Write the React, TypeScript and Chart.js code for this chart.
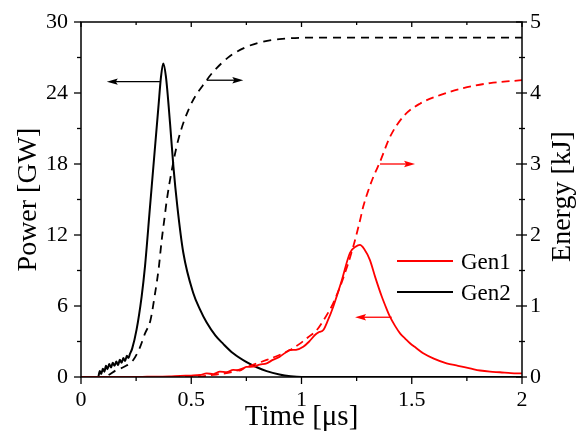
import React, { useEffect, useRef } from 'react';
import { Chart, registerables } from 'chart.js';

Chart.register(...registerables);

// ---- Data ----
const seriesNames = ['Gen1', 'Gen2'];

// Gen2 power [GW] vs time [µs]
const gen2Time = [0, 0.078, 0.085, 0.092, 0.099, 0.106, 0.113, 0.12, 0.128, 0.136, 0.144, 0.152, 0.16, 0.168, 0.176, 0.184, 0.192, 0.2, 0.208, 0.215, 0.222, 0.232, 0.252, 0.275, 0.29, 0.313, 0.336, 0.351, 0.363, 0.373, 0.385, 0.404, 0.419, 0.437, 0.464, 0.509, 0.54, 0.57, 0.61, 0.645, 0.69, 0.751, 0.8, 0.842, 0.9, 0.95, 1.0, 2.0];
const gen2Power = [0, 0, 0.5, 0.25, 0.7, 0.45, 0.95, 0.65, 1.1, 0.8, 1.2, 0.95, 1.3, 1.0, 1.45, 1.2, 1.6, 1.35, 1.8, 1.6, 1.95, 2.4, 4.0, 6.8, 9.3, 14.4, 19.5, 22.8, 25.4, 26.5, 25.4, 21.4, 17.8, 14.4, 10.5, 7.1, 5.7, 4.6, 3.5, 2.8, 2.0, 1.25, 0.8, 0.5, 0.22, 0.07, 0, 0];

// Gen2 energy [kJ]
const gen2ETime = [0, 0.1, 0.162, 0.2, 0.237, 0.265, 0.29, 0.315, 0.336, 0.352, 0.366, 0.378, 0.389, 0.411, 0.441, 0.494, 0.57, 0.6, 0.676, 0.751, 0.82, 0.9, 1.05, 1.3, 2.0];
const gen2Energy = [0, 0, 0.1, 0.15, 0.24, 0.4, 0.61, 0.8, 1.18, 1.52, 1.93, 2.22, 2.49, 2.9, 3.34, 3.81, 4.18, 4.3, 4.52, 4.65, 4.72, 4.76, 4.78, 4.78, 4.78];

// Gen1 power [GW]
const gen1Time = [0, 0.2, 0.3, 0.4, 0.45, 0.5, 0.54, 0.57, 0.6, 0.63, 0.66, 0.69, 0.72, 0.75, 0.78, 0.81, 0.842, 0.87, 0.9, 0.93, 0.948, 0.975, 1.008, 1.035, 1.061, 1.08, 1.099, 1.12, 1.144, 1.18, 1.22, 1.245, 1.265, 1.285, 1.31, 1.335, 1.364, 1.385, 1.401, 1.425, 1.447, 1.47, 1.492, 1.52, 1.552, 1.6, 1.658, 1.71, 1.764, 1.81, 1.855, 1.9, 1.95, 2.0];
const gen1Power = [0, 0, 0.02, 0.05, 0.1, 0.12, 0.17, 0.3, 0.25, 0.45, 0.4, 0.6, 0.55, 0.85, 0.87, 1.05, 1.15, 1.45, 1.7, 2.1, 2.28, 2.3, 2.56, 3.0, 3.55, 3.8, 3.97, 4.8, 5.94, 8.0, 10.5, 11.0, 11.16, 10.8, 9.9, 8.4, 6.8, 5.8, 5.1, 4.3, 3.69, 3.25, 2.85, 2.45, 2.0, 1.55, 1.15, 0.95, 0.73, 0.55, 0.45, 0.4, 0.33, 0.3];

// Gen1 energy [kJ]
const gen1ETime = [0, 0.5, 0.6, 0.69, 0.76, 0.842, 0.9, 0.948, 0.993, 1.03, 1.069, 1.1, 1.144, 1.19, 1.235, 1.265, 1.28, 1.3, 1.326, 1.356, 1.401, 1.462, 1.537, 1.628, 1.734, 1.855, 1.96, 2.0];
const gen1Energy = [0, 0, 0.03, 0.075, 0.15, 0.24, 0.31, 0.38, 0.47, 0.56, 0.66, 0.8, 1.04, 1.4, 1.84, 2.2, 2.4, 2.6, 2.82, 3.03, 3.38, 3.67, 3.85, 3.97, 4.07, 4.14, 4.17, 4.18];

// Ticks
const timeTicks = [0, 0.5, 1, 1.5, 2];
const timeMinorTicks = [0.25, 0.75, 1.25, 1.75];
const powerTicks = [0, 6, 12, 18, 24, 30];
const powerMinorTicks = [3, 9, 15, 21, 27];
const energyTicks = [0, 1, 2, 3, 4, 5];
const energyMinorTicks = [0.5, 1.5, 2.5, 3.5, 4.5];

// Annotation arrows (data coordinates): axis id, from time, to time, value
const arrowAxis = ['y', 'y1', 'y1', 'y'];
const arrowFrom = [0.358, 0.57, 1.356, 1.409];
const arrowTo = [0.117, 0.736, 1.515, 1.243];
const arrowAt = [24.96, 4.18, 3.0, 5.05];
const arrowColors = ['#000000', '#000000', '#ff0000', '#ff0000'];

const RED = '#ff0000';
const BLACK = '#000000';
const FONT = "'Liberation Serif', 'Times New Roman', Times, serif";

const pts = (xs: number[], ys: number[]) => xs.map((x, i) => ({ x, y: ys[i] }));

const decorPlugin = {
  id: 'decor',
  afterDraw(chart: any) {
    const { ctx, chartArea, scales } = chart;
    const { left, right, top, bottom } = chartArea;
    ctx.save();
    // frame
    ctx.strokeStyle = BLACK;
    ctx.lineWidth = 1.5;
    ctx.strokeRect(left, top, right - left, bottom - top);
    ctx.lineWidth = 1.3;
    const line = (x0: number, y0: number, x1: number, y1: number) => {
      ctx.beginPath();
      ctx.moveTo(x0, y0);
      ctx.lineTo(x1, y1);
      ctx.stroke();
    };
    for (const v of timeTicks) {
      const p = scales.x.getPixelForValue(v);
      line(p, bottom, p, bottom + 7);
      line(p, top, p, top + 5);
    }
    for (const v of timeMinorTicks) {
      const p = scales.x.getPixelForValue(v);
      line(p, bottom, p, bottom + 4);
      line(p, top, p, top + 3);
    }
    for (const v of powerTicks) {
      const p = scales.y.getPixelForValue(v);
      line(left - 7, p, left, p);
    }
    for (const v of powerMinorTicks) {
      const p = scales.y.getPixelForValue(v);
      line(left - 4, p, left, p);
    }
    for (const v of energyTicks) {
      const p = scales.y1.getPixelForValue(v);
      line(right - 6, p, right + 5, p);
    }
    for (const v of energyMinorTicks) {
      const p = scales.y1.getPixelForValue(v);
      line(right - 3, p, right + 3, p);
    }

    // arrows
    for (let i = 0; i < arrowFrom.length; i++) {
      const sc = scales[arrowAxis[i]];
      const y = sc.getPixelForValue(arrowAt[i]);
      const x0 = scales.x.getPixelForValue(arrowFrom[i]);
      const x1 = scales.x.getPixelForValue(arrowTo[i]);
      const dir = x1 > x0 ? 1 : -1;
      ctx.strokeStyle = arrowColors[i];
      ctx.fillStyle = arrowColors[i];
      ctx.lineWidth = 1.3;
      line(x0, y, x1 - dir * 6, y);
      ctx.beginPath();
      ctx.moveTo(x1, y);
      ctx.lineTo(x1 - dir * 11, y - 3.2);
      ctx.lineTo(x1 - dir * 9, y);
      ctx.lineTo(x1 - dir * 11, y + 3.2);
      ctx.closePath();
      ctx.fill();
    }

    // legend
    const legendColors = [RED, BLACK];
    const lx0 = right - 125;
    const lx1 = right - 69;
    const tx = right - 61;
    const ys = [top + 239, top + 270];
    ctx.font = `23px ${FONT}`;
    ctx.textBaseline = 'middle';
    ctx.textAlign = 'left';
    for (let i = 0; i < seriesNames.length; i++) {
      ctx.strokeStyle = legendColors[i];
      ctx.lineWidth = 1.8;
      line(lx0, ys[i], lx1, ys[i]);
      ctx.fillStyle = BLACK;
      ctx.fillText(seriesNames[i], tx, ys[i] + 1.5);
    }

    // right axis title (reads bottom to top)
    ctx.save();
    ctx.font = `28px ${FONT}`;
    ctx.fillStyle = BLACK;
    ctx.textAlign = 'center';
    ctx.textBaseline = 'alphabetic';
    ctx.translate(570, (top + bottom) / 2 - 3);
    ctx.rotate(-Math.PI / 2);
    ctx.fillText('Energy [kJ]', 0, 0);
    ctx.restore();

    ctx.restore();
  },
};

export default function App() {
  const ref = useRef<HTMLCanvasElement | null>(null);

  useEffect(() => {
    document.body.style.margin = '0';
    const canvas = ref.current;
    if (!canvas) return;
    const tickFont = { family: FONT, size: 22 };
    const common = { pointRadius: 0, fill: false, cubicInterpolationMode: 'monotone' };
    const chart = new Chart(canvas, {
      type: 'line',
      data: {
        datasets: [
          {
            ...common,
            label: seriesNames[0] + ' energy',
            data: pts(gen1ETime, gen1Energy),
            yAxisID: 'y1',
            borderColor: RED,
            borderWidth: 1.8,
            borderDash: [8, 5],
            order: 1,
          },
          {
            ...common,
            label: seriesNames[0],
            data: pts(gen1Time, gen1Power),
            yAxisID: 'y',
            borderColor: RED,
            borderWidth: 1.8,
            order: 2,
          },
          {
            ...common,
            label: seriesNames[1] + ' energy',
            data: pts(gen2ETime, gen2Energy),
            yAxisID: 'y1',
            borderColor: BLACK,
            borderWidth: 1.8,
            borderDash: [8, 6],
            order: 3,
          },
          {
            ...common,
            label: seriesNames[1],
            data: pts(gen2Time, gen2Power),
            yAxisID: 'y',
            borderColor: BLACK,
            borderWidth: 2,
            order: 4,
          },
        ],
      },
      options: {
        responsive: false,
        animation: false,
        devicePixelRatio: 1,
        layout: { padding: { top: 22, left: 0, right: 0, bottom: 0 } },
        plugins: {
          legend: { display: false },
          tooltip: { enabled: false },
        },
        scales: {
          x: {
            type: 'linear',
            min: 0,
            max: 2,
            grid: { display: false, drawTicks: false },
            border: { display: false },
            afterBuildTicks: (s: any) => {
              s.ticks = timeTicks.map((v) => ({ value: v }));
            },
            afterFit: (s: any) => {
              s.height = 60;
              s.paddingLeft = 0;
              s.paddingRight = 0;
            },
            ticks: {
              font: tickFont,
              color: BLACK,
              padding: 10,
              maxRotation: 0,
              autoSkip: false,
              callback: (v: any) => String(v),
            },
            title: {
              display: true,
              text: 'Time [μs]',
              color: BLACK,
              font: { family: FONT, size: 29 },
              padding: { top: 0, bottom: 2 },
            },
          },
          y: {
            type: 'linear',
            position: 'left',
            min: 0,
            max: 30,
            grid: { display: false, drawTicks: false },
            border: { display: false },
            afterBuildTicks: (s: any) => {
              s.ticks = powerTicks.map((v) => ({ value: v }));
            },
            afterFit: (s: any) => {
              s.width = 81;
              s.paddingTop = 0;
              s.paddingBottom = 0;
            },
            ticks: {
              font: tickFont,
              color: BLACK,
              padding: 13,
              autoSkip: false,
              callback: (v: any) => String(v),
            },
            title: {
              display: true,
              text: 'Power [GW]',
              color: BLACK,
              font: { family: FONT, size: 28 },
              padding: { top: 12, bottom: 0 },
            },
          },
          y1: {
            type: 'linear',
            position: 'right',
            min: 0,
            max: 5,
            grid: { display: false, drawTicks: false },
            border: { display: false },
            afterBuildTicks: (s: any) => {
              s.ticks = energyTicks.map((v) => ({ value: v }));
            },
            afterFit: (s: any) => {
              s.width = 57;
              s.paddingTop = 0;
              s.paddingBottom = 0;
            },
            ticks: {
              font: tickFont,
              color: BLACK,
              padding: 8,
              autoSkip: false,
              callback: (v: any) => String(v),
            },
            title: { display: false, text: 'Energy [kJ]' },
          },
        },
      },
      plugins: [decorPlugin],
    } as any);
    return () => chart.destroy();
  }, []);

  return (
    <div style={{ position: 'absolute', left: 0, top: 0, width: 579, height: 437, background: '#ffffff' }}>
      <canvas ref={ref} width={579} height={437} style={{ width: 579, height: 437, display: 'block' }} />
    </div>
  );
}
